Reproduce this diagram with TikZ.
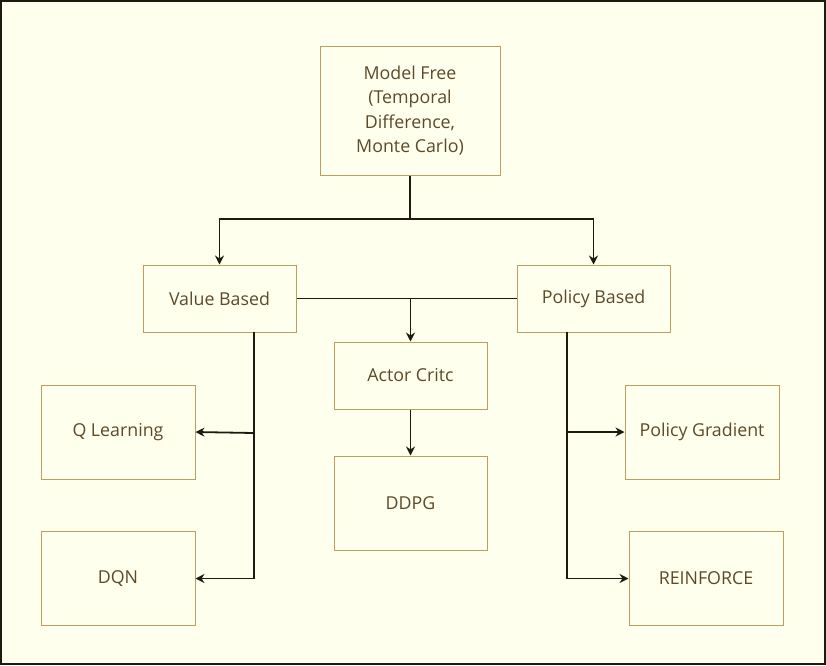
\documentclass[tikz,border=0pt]{standalone}
\usepackage{fontspec}
\setmainfont{Open Sans}
\usetikzlibrary{arrows.meta}
\definecolor{bgc}{HTML}{FFFFEE}
\definecolor{boxc}{HTML}{BF9D5E}
\definecolor{txtc}{HTML}{5C4A28}
\definecolor{linec}{HTML}{1E1A12}
\tikzset{
  blk/.style={draw=boxc, line width=1pt, fill=bgc, text=txtc, font=\fontsize{17.8}{24.5}\selectfont, align=center, inner sep=0pt},
  conn/.style={draw=linec, line width=1.8pt},
  arr/.style={conn, -{Stealth[length=9pt,width=9pt]}}
}
\begin{document}
\begin{tikzpicture}[x=1pt,y=-1pt]
\draw[fill=bgc, draw=linec, line width=2pt] (1,1) rectangle (825,664);
\useasboundingbox (0,0) rectangle (826,665);
\node[blk, minimum width=180pt, minimum height=129pt] (mf) at (410,110.5) {Model Free\\(Temporal\\Difference,\\Monte Carlo)};
\node[blk, minimum width=153pt, minimum height=67pt] (vb) at (219.5,298.5) {Value Based};
\node[blk, minimum width=153pt, minimum height=67pt] (pb) at (593.5,298.5) {Policy Based};
\node[blk, minimum width=153pt, minimum height=67pt] (ac) at (410.5,375.5) {Actor Critc};
\node[blk, minimum width=153pt, minimum height=94pt] (dd) at (410.5,503) {DDPG};
\node[blk, minimum width=154pt, minimum height=94pt] (ql) at (118,432) {Q Learning};
\node[blk, minimum width=154pt, minimum height=94pt] (dqn) at (118,578.5) {DQN};
\node[blk, minimum width=154pt, minimum height=94pt] (pg) at (702,432) {Policy Gradient};
\node[blk, minimum width=154pt, minimum height=94pt] (rf) at (706,578.5) {REINFORCE};
\coordinate (j1) at (410,219);
\draw[conn] (mf.south) -- (j1);
\draw[arr] (j1) -| (vb.north);
\draw[arr] (j1) -| (pb.north);
\draw[conn] (vb.east) -- (pb.west);
\draw[arr] (ac.north |- vb.east) -- (ac.north);
\draw[arr] (ac.south) -- (dd.north);
\coordinate (vl) at (254,332);
\coordinate (vq) at (254,433);
\draw[arr] (vl) |- (dqn.east);
\draw[arr] (vq) -- (ql.east);
\coordinate (pl) at (567,332);
\coordinate (pq) at (567,432);
\draw[arr] (pl) |- (rf.west);
\draw[arr] (pq) -- (pg.west);
\end{tikzpicture}
\end{document}
